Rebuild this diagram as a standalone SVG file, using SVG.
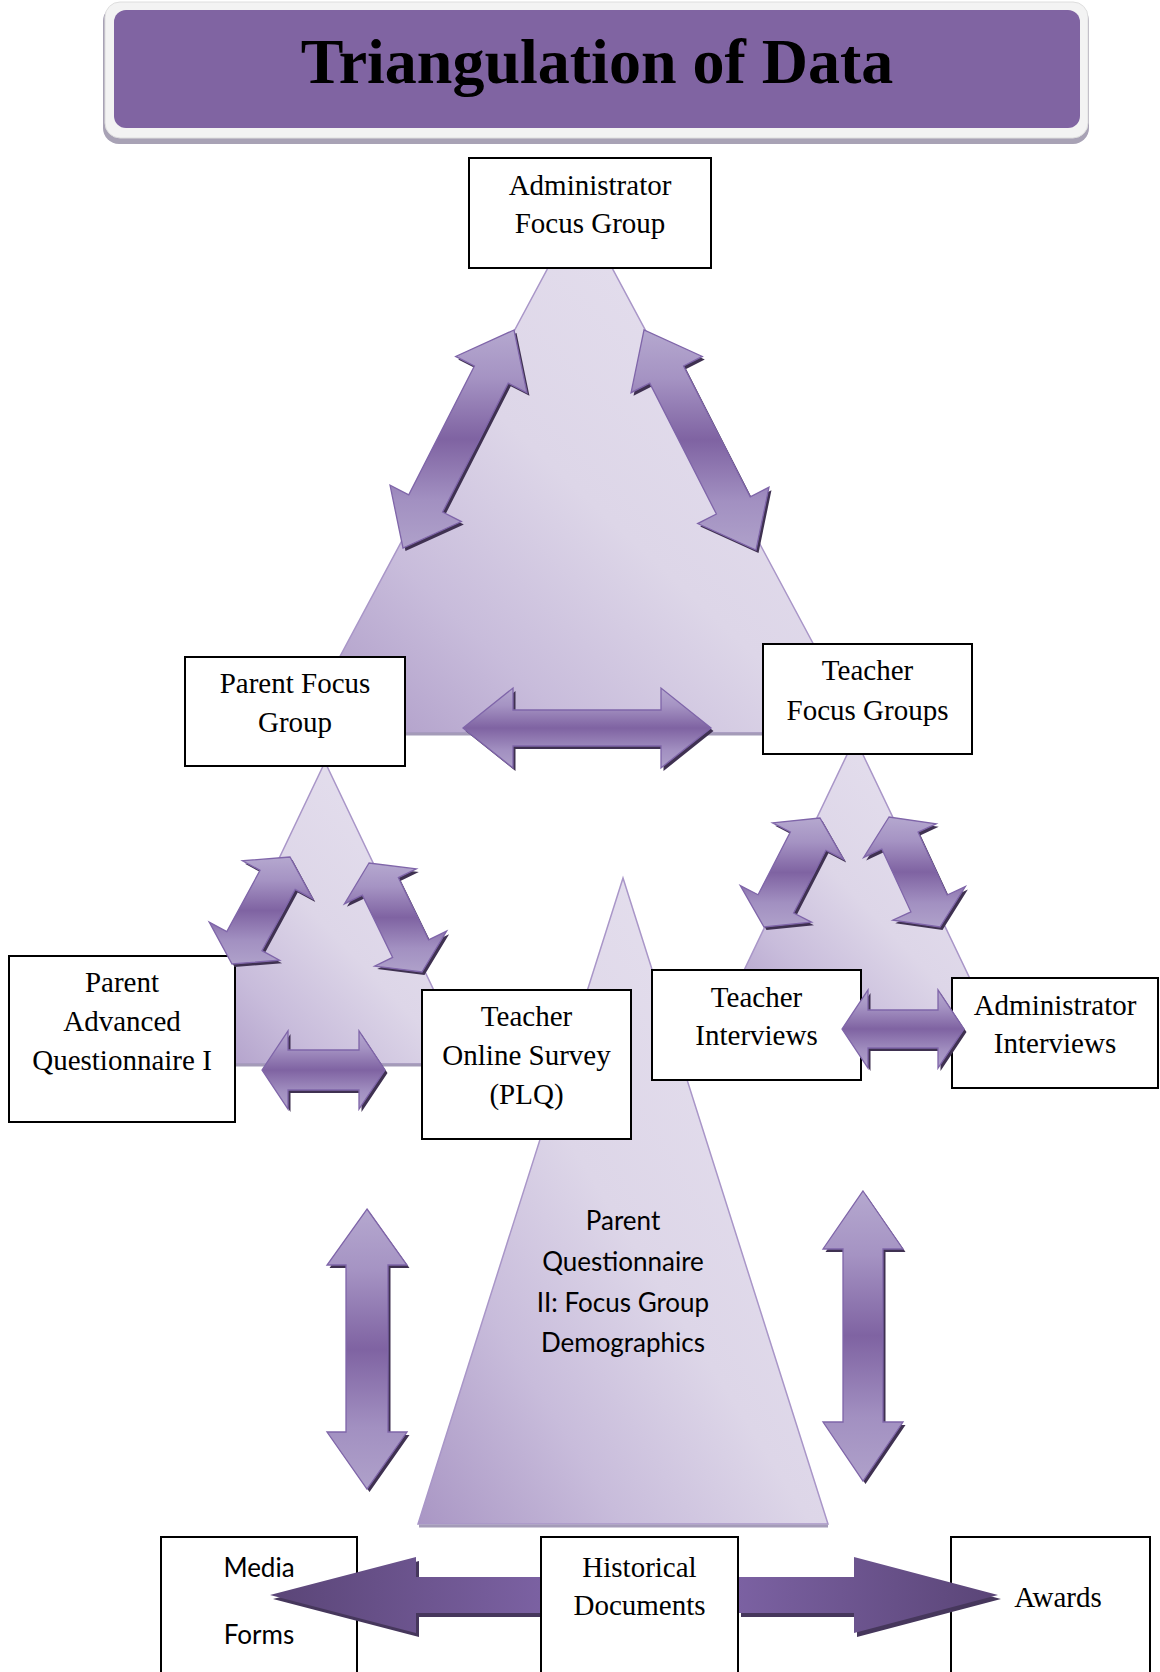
<svg xmlns="http://www.w3.org/2000/svg" xmlns:xlink="http://www.w3.org/1999/xlink" width="1160" height="1672" viewBox="0 0 1160 1672">
  <style>
    .box { fill: #ffffff; stroke: #000000; stroke-width: 2; }
    .serif { font-family: "Liberation Serif", "Times New Roman", serif; font-size: 29px; fill: #000000; text-anchor: middle; }
    .sans { font-family: Lato, "Open Sans", "Liberation Sans", sans-serif; font-size: 26px; fill: #000000; text-anchor: middle; }
    .tri { fill: url(#triFill); stroke: #a996c8; stroke-width: 1.5; }
    .base { stroke: #a49bb8; stroke-width: 3; }
    .sh { fill: #3f3151; }
    .dbl { fill: url(#dblFill); stroke: #7f65a9; stroke-width: 1.3; stroke-linejoin: miter; }
  </style>
  <defs>
    <linearGradient id="triFill" x1="0" y1="1" x2="1" y2="0">
      <stop offset="0" stop-color="#a996c4"/>
      <stop offset="0.25" stop-color="#c8bcdb"/>
      <stop offset="0.48" stop-color="#ddd6e8"/>
      <stop offset="1" stop-color="#e8e3f0"/>
    </linearGradient>
    <linearGradient id="dblFill" x1="0" y1="0" x2="0" y2="1">
      <stop offset="0" stop-color="#b5a8cf"/>
      <stop offset="0.22" stop-color="#a593c3"/>
      <stop offset="0.5" stop-color="#7f63a2"/>
      <stop offset="0.78" stop-color="#a290c1"/>
      <stop offset="1" stop-color="#afa1ca"/>
    </linearGradient>
    <linearGradient id="leftFill" x1="0" y1="0" x2="1" y2="0">
      <stop offset="0" stop-color="#5a4577"/>
      <stop offset="1" stop-color="#7b61a2"/>
    </linearGradient>
    <linearGradient id="rightFill" x1="0" y1="0" x2="1" y2="0">
      <stop offset="0" stop-color="#7b61a2"/>
      <stop offset="1" stop-color="#5a4577"/>
    </linearGradient>
    <!-- double-headed arrow outlines -->
    <polygon id="p-t1" points="514,330 455.66,356.41 474.38,365.94 408.76,494.82 390.04,485.29 403,548 461.34,521.59 442.62,512.06 508.24,383.18 526.96,392.71"/>
    <polygon id="p-t2" points="644,330 631.04,392.69 649.75,383.17 716.39,514.07 697.68,523.59 756,550 768.96,487.31 750.25,496.83 683.61,365.93 702.32,356.41"/>
    <polygon id="p-t3" points="463,728 513,688 513,710 661,710 661,688 711,728 661,768 661,746 513,746 513,768"/>
    <polygon id="p-l1" points="290,857 242.44,860.8 260.03,870.33 226.81,931.61 209.22,922.08 232,964 279.56,960.2 261.97,950.67 295.19,889.39 312.78,898.92"/>
    <polygon id="p-l2" points="369,863 344.4,903.87 362.38,895.13 392.64,957.37 374.66,966.11 422,972 446.6,931.13 428.62,939.87 398.36,877.63 416.34,868.89"/>
    <polygon id="p-l3" points="262,1070 288,1031 288,1050 359,1050 359,1031 385,1070 359,1109 359,1090 288,1090 288,1109"/>
    <polygon id="p-r1" points="820,818 772.53,822.85 790.32,831.99 758.08,894.73 740.29,885.59 764,927 811.47,922.15 793.68,913.01 825.92,850.27 843.71,859.41"/>
    <polygon id="p-r2" points="889,817 863.65,857.41 881.8,849 910.92,911.82 892.77,920.23 940,927 965.35,886.59 947.2,895 918.08,832.18 936.23,823.77"/>
    <polygon id="p-r3" points="842,1029 868,990 868,1010 938,1010 938,990 964,1029 938,1068 938,1048 868,1048 868,1068"/>
    <polygon id="p-v1" points="367,1209 407,1265 388,1265 388,1432 407,1432 367,1489 327,1432 346,1432 346,1265 327,1265"/>
    <polygon id="p-v2" points="863,1191 903,1249 883,1249 883,1422 903,1422 863,1481 823,1422 843,1422 843,1249 823,1249"/>
    <polygon id="p-hl" points="270,1595 416,1557 416,1577 541,1577 541,1613 416,1613 416,1633"/>
    <polygon id="p-hr" points="738,1577 854,1577 854,1557 998,1595 854,1633 854,1613 738,1613"/>
  </defs>

  <rect width="1160" height="1672" fill="#ffffff"/>

  <!-- title banner -->
  <g id="title">
    <rect x="103" y="5" width="986" height="139" rx="16" fill="#a8a2b5"/>
    <rect x="105" y="2" width="983" height="136" rx="15" fill="#f3f3f3" stroke="#dedede" stroke-width="1"/>
    <rect x="114" y="10" width="966" height="118" rx="12" fill="#8064a2"/>
    <text x="597" y="83" text-anchor="middle" font-family="'Liberation Serif', 'Times New Roman', serif" font-weight="bold" font-size="64">Triangulation of Data</text>
  </g>

  <!-- background triangles -->
  <g id="triangles">
    <polygon class="tri" points="580,208 861,733 299,733"/>
    <line class="base" x1="299" y1="734" x2="861" y2="734"/>
    <polygon class="tri" points="325,762 469,1064 181,1064"/>
    <line class="base" x1="181" y1="1065" x2="469" y2="1065"/>
    <polygon class="tri" points="855,738 994,1029 716,1029"/>
    <line class="base" x1="716" y1="1030" x2="994" y2="1030"/>
    <polygon class="tri" points="623,878 828,1524 418,1524"/>
    <line class="base" x1="419" y1="1526" x2="828" y2="1526"/>
  </g>

  <!-- nodes -->
  <g id="admin-focus-group">
    <rect class="box" x="469" y="158" width="242" height="110"/>
    <text class="serif" x="590" y="195">Administrator</text>
    <text class="serif" x="590" y="233">Focus Group</text>
  </g>
  <g id="parent-focus-group">
    <rect class="box" x="185" y="657" width="220" height="109"/>
    <text class="serif" x="295" y="693">Parent Focus</text>
    <text class="serif" x="295" y="732">Group</text>
  </g>
  <g id="teacher-focus-groups">
    <rect class="box" x="763" y="644" width="209" height="110"/>
    <text class="serif" x="867.5" y="680">Teacher</text>
    <text class="serif" x="867.5" y="720">Focus Groups</text>
  </g>
  <g id="parent-advanced-questionnaire">
    <rect class="box" x="9" y="956" width="226" height="166"/>
    <text class="serif" x="122" y="992">Parent</text>
    <text class="serif" x="122" y="1031">Advanced</text>
    <text class="serif" x="122" y="1070">Questionnaire I</text>
  </g>
  <g id="teacher-online-survey">
    <rect class="box" x="422" y="990" width="209" height="149"/>
    <text class="serif" x="526.5" y="1026">Teacher</text>
    <text class="serif" x="526.5" y="1065">Online Survey</text>
    <text class="serif" x="526.5" y="1104">(PLQ)</text>
  </g>
  <g id="teacher-interviews">
    <rect class="box" x="652" y="970" width="209" height="110"/>
    <text class="serif" x="756.5" y="1007">Teacher</text>
    <text class="serif" x="756.5" y="1045">Interviews</text>
  </g>
  <g id="admin-interviews">
    <rect class="box" x="952" y="978" width="206" height="110"/>
    <text class="serif" x="1055" y="1015">Administrator</text>
    <text class="serif" x="1055" y="1053">Interviews</text>
  </g>
  <g id="parent-questionnaire-ii">
    <text class="sans" x="623" y="1230">Parent</text>
    <text class="sans" x="623" y="1271">Questionnaire</text>
    <text class="sans" x="623" y="1312">II: Focus Group</text>
    <text class="sans" x="623" y="1352">Demographics</text>
  </g>
  <g id="media-forms">
    <rect class="box" x="161" y="1537" width="196" height="145"/>
    <text class="sans" x="259" y="1577">Media</text>
    <text class="sans" x="259" y="1644">Forms</text>
  </g>
  <g id="awards">
    <rect class="box" x="951" y="1537" width="199" height="145"/>
    <text class="serif" x="1058" y="1607">Awards</text>
  </g>

  <!-- connectors -->
  <g id="connectors">
    <g id="admin-parent">
      <use href="#p-t1" class="sh" transform="translate(2.5,3)"/>
      <use href="#p-t1" class="dbl"/>
    </g>
    <g id="admin-teacher">
      <use href="#p-t2" class="sh" transform="translate(2.5,3)"/>
      <use href="#p-t2" class="dbl"/>
    </g>
    <g id="parent-teacher">
      <use href="#p-t3" class="sh" transform="translate(2.5,3)"/>
      <use href="#p-t3" class="dbl"/>
    </g>
    <g id="pfg-paq">
      <use href="#p-l1" class="sh" transform="translate(2.5,3)"/>
      <use href="#p-l1" class="dbl"/>
    </g>
    <g id="pfg-tos">
      <use href="#p-l2" class="sh" transform="translate(2.5,3)"/>
      <use href="#p-l2" class="dbl"/>
    </g>
    <g id="paq-tos">
      <use href="#p-l3" class="sh" transform="translate(2.5,3)"/>
      <use href="#p-l3" class="dbl"/>
    </g>
    <g id="tfg-ti">
      <use href="#p-r1" class="sh" transform="translate(2.5,3)"/>
      <use href="#p-r1" class="dbl"/>
    </g>
    <g id="tfg-ai">
      <use href="#p-r2" class="sh" transform="translate(2.5,3)"/>
      <use href="#p-r2" class="dbl"/>
    </g>
    <g id="ti-ai">
      <use href="#p-r3" class="sh" transform="translate(2.5,3)"/>
      <use href="#p-r3" class="dbl"/>
    </g>
    <g id="left-vertical">
      <use href="#p-v1" class="sh" transform="translate(2.5,3)"/>
      <use href="#p-v1" class="dbl"/>
    </g>
    <g id="right-vertical">
      <use href="#p-v2" class="sh" transform="translate(2.5,3)"/>
      <use href="#p-v2" class="dbl"/>
    </g>
    <g id="to-media">
      <use href="#p-hl" fill="#46375c" transform="translate(3,4)"/>
      <use href="#p-hl" fill="url(#leftFill)"/>
    </g>
    <g id="to-awards">
      <use href="#p-hr" fill="#46375c" transform="translate(3,4)"/>
      <use href="#p-hr" fill="url(#rightFill)"/>
    </g>
  </g>

  <g id="historical-documents">
    <rect class="box" x="541" y="1537" width="197" height="145"/>
    <text class="serif" x="639.5" y="1577">Historical</text>
    <text class="serif" x="639.5" y="1615">Documents</text>
  </g>
</svg>
